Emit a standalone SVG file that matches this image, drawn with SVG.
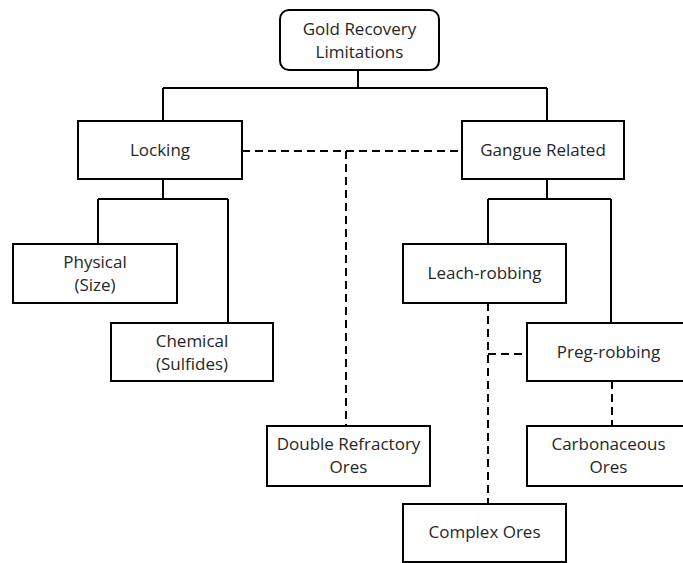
<svg xmlns="http://www.w3.org/2000/svg" width="683" height="563" viewBox="0 0 683 563">
<style>
.box{fill:#fff;stroke:#000;stroke-width:2}
.t{font-family:"Open Sans","Liberation Sans",sans-serif;font-size:17px;fill:#262626;text-anchor:middle}
.s{fill:none;stroke:#000;stroke-width:2}
.d{fill:none;stroke:#000;stroke-width:2;stroke-dasharray:8,5}
</style>
<rect width="683" height="563" fill="#fff"/>
<g id="connectors">
<path class="s" d="M358,70V88M163,88H547M163,88V121M547,88V121"/>
<path class="s" d="M163,179V199M98,199H228M98,199V244M228,199V323"/>
<path class="s" d="M547,179V199M488,199H611M488,199V244M611,199V323"/>
<path class="d" d="M242,151H462M346,151V426"/>
<path class="d" d="M488,303V504M488,354H527"/>
<path class="d" d="M612,381V426"/>
</g>
<g id="gold"><rect class="box" x="280" y="10" width="159" height="60" rx="9"/><text class="t" x="359.5" y="35">Gold Recovery</text><text class="t" x="359.5" y="58">Limitations</text></g>
<g id="locking"><rect class="box" x="78" y="121" width="164" height="58"/><text class="t" x="160" y="156">Locking</text></g>
<g id="gangue"><rect class="box" x="462" y="121" width="162" height="58"/><text class="t" x="543" y="156">Gangue Related</text></g>
<g id="physical"><rect class="box" x="13" y="244" width="164" height="59"/><text class="t" x="95" y="268">Physical</text><text class="t" x="95" y="291">(Size)</text></g>
<g id="chemical"><rect class="box" x="111" y="323" width="162" height="58"/><text class="t" x="192" y="347">Chemical</text><text class="t" x="192" y="370">(Sulfides)</text></g>
<g id="leach"><rect class="box" x="403" y="244" width="163" height="59"/><text class="t" x="484.5" y="279">Leach-robbing</text></g>
<g id="preg"><rect class="box" x="527" y="323" width="163" height="58"/><text class="t" x="608.5" y="358">Preg-robbing</text></g>
<g id="double"><rect class="box" x="267" y="426" width="163" height="60"/><text class="t" x="348.5" y="450">Double Refractory</text><text class="t" x="348.5" y="473">Ores</text></g>
<g id="carbon"><rect class="box" x="527" y="426" width="163" height="60"/><text class="t" x="608.5" y="450">Carbonaceous</text><text class="t" x="608.5" y="473">Ores</text></g>
<g id="complex"><rect class="box" x="403" y="504" width="163" height="58"/><text class="t" x="484.5" y="538">Complex Ores</text></g>
</svg>
